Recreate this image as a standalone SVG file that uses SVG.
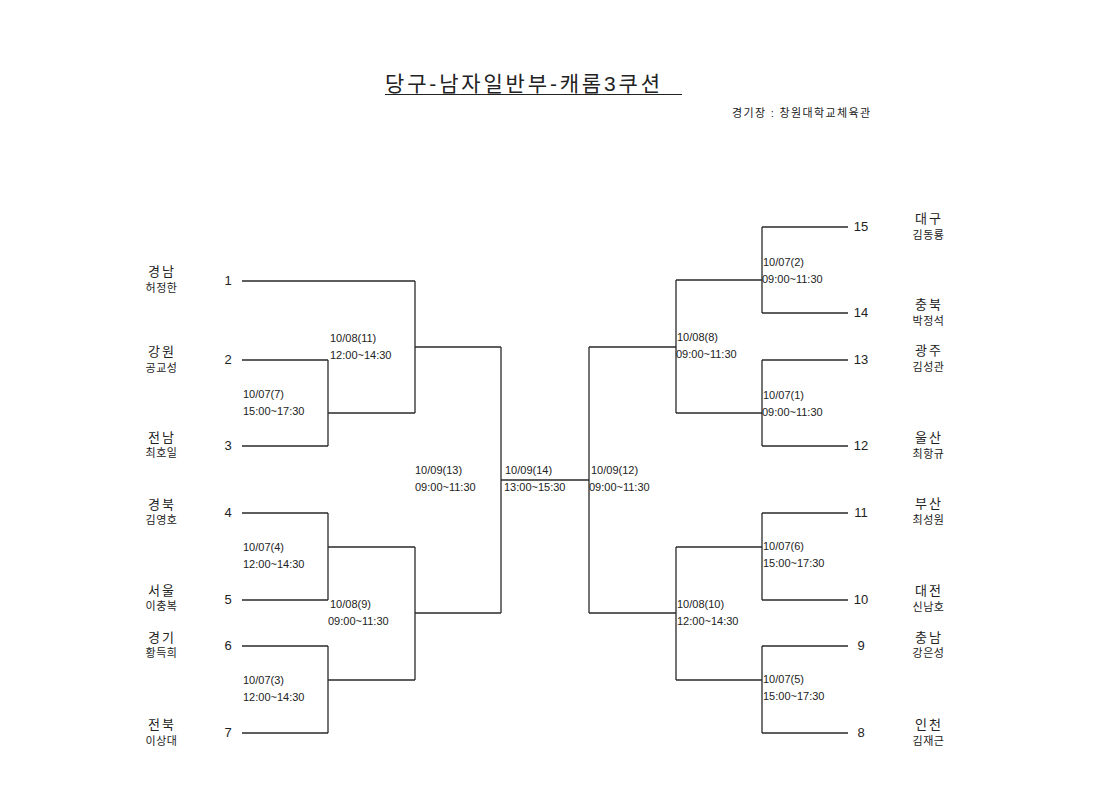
<svg xmlns="http://www.w3.org/2000/svg" width="1120" height="792" viewBox="0 0 1120 792">
<style>
text{font-family:"Liberation Sans","Noto Sans CJK KR",sans-serif;fill:#222}
.title{font-size:21px}
.venue{font-size:11px}
.num{font-size:13px;text-anchor:middle}
.team{font-size:13px;text-anchor:middle;letter-spacing:2px}
.name{font-size:11px;text-anchor:middle;letter-spacing:0.5px}
.date{font-size:11px}
.ln{fill:none;stroke:#2a2a2a;stroke-width:1.3}
</style>
<rect width="1120" height="792" fill="#fff"/>
<g id="title">
<text class="title" x="385" y="91" textLength="275" lengthAdjust="spacing">당구-남자일반부-캐롬3쿠션</text>
<line x1="385" y1="94.5" x2="682" y2="94.5" stroke="#222" stroke-width="1.2"/>
<text class="venue" x="732" y="117" textLength="138" lengthAdjust="spacing">경기장 : 창원대학교체육관</text>
</g>
<g id="connectors">
<path class="ln" d="M242,281H415M242,360H328M242,446H328M328,360V446M328,413H415M415,281V413M415,347H501"/>
<path class="ln" d="M242,513H328M242,600H328M328,513V600M328,547H415M242,646H328M242,733H328M328,646V733M328,680H415M415,547V680M415,613H501"/>
<path class="ln" d="M501,347V613M501,480H589M589,347V613M589,347H676M589,613H676"/>
<path class="ln" d="M676,280V413M676,280H762M676,413H762M762,227V313M762,227H848M762,313H848M762,360V446M762,360H848M762,446H848"/>
<path class="ln" d="M676,547V680M676,547H762M676,680H762M762,513V600M762,513H848M762,600H848M762,646V733M762,646H848M762,733H848"/>
</g>
<g id="p1"><text class="num" x="228" y="285">1</text><text class="team" x="162" y="276">경남</text><text class="name" x="161.5" y="292">허정한</text></g>
<g id="p2"><text class="num" x="228" y="364">2</text><text class="team" x="162" y="356">강원</text><text class="name" x="161.5" y="372">공교성</text></g>
<g id="p3"><text class="num" x="228" y="450">3</text><text class="team" x="162" y="442">전남</text><text class="name" x="161.5" y="457">최호일</text></g>
<g id="p4"><text class="num" x="228" y="517">4</text><text class="team" x="162" y="509">경북</text><text class="name" x="161.5" y="524">김영호</text></g>
<g id="p5"><text class="num" x="228" y="604">5</text><text class="team" x="162" y="595">서울</text><text class="name" x="161.5" y="610">이충복</text></g>
<g id="p6"><text class="num" x="228" y="650">6</text><text class="team" x="162" y="642">경기</text><text class="name" x="161.5" y="657">황득희</text></g>
<g id="p7"><text class="num" x="228" y="737">7</text><text class="team" x="162" y="729">전북</text><text class="name" x="161.5" y="745">이상대</text></g>
<g id="p15"><text class="num" x="861" y="231">15</text><text class="team" x="929" y="223">대구</text><text class="name" x="928.5" y="239">김동룡</text></g>
<g id="p14"><text class="num" x="861" y="317">14</text><text class="team" x="929" y="309">충북</text><text class="name" x="928.5" y="325">박정석</text></g>
<g id="p13"><text class="num" x="861" y="364">13</text><text class="team" x="929" y="355">광주</text><text class="name" x="928.5" y="371">김성관</text></g>
<g id="p12"><text class="num" x="861" y="450">12</text><text class="team" x="929" y="442">울산</text><text class="name" x="928.5" y="458">최항규</text></g>
<g id="p11"><text class="num" x="861" y="517">11</text><text class="team" x="929" y="508">부산</text><text class="name" x="928.5" y="524">최성원</text></g>
<g id="p10"><text class="num" x="861" y="604">10</text><text class="team" x="929" y="595">대전</text><text class="name" x="928.5" y="611">신남호</text></g>
<g id="p9"><text class="num" x="861" y="650">9</text><text class="team" x="929" y="642">충남</text><text class="name" x="928.5" y="657">강은성</text></g>
<g id="p8"><text class="num" x="861" y="737">8</text><text class="team" x="929" y="729">인천</text><text class="name" x="928.5" y="745">김재근</text></g>
<g id="m7"><text class="date" x="243" y="398">10/07(7)</text><text class="date" x="243" y="415">15:00~17:30</text></g>
<g id="m11"><text class="date" x="330" y="342">10/08(11)</text><text class="date" x="330" y="359">12:00~14:30</text></g>
<g id="m4"><text class="date" x="243" y="551">10/07(4)</text><text class="date" x="243" y="568">12:00~14:30</text></g>
<g id="m9"><text class="date" x="330" y="608">10/08(9)</text><text class="date" x="328" y="625">09:00~11:30</text></g>
<g id="m3"><text class="date" x="243" y="684">10/07(3)</text><text class="date" x="243" y="701">12:00~14:30</text></g>
<g id="m13"><text class="date" x="415" y="474">10/09(13)</text><text class="date" x="415" y="491">09:00~11:30</text></g>
<g id="m14"><text class="date" x="505" y="474">10/09(14)</text><text class="date" x="504" y="491">13:00~15:30</text></g>
<g id="m12"><text class="date" x="591" y="474">10/09(12)</text><text class="date" x="589" y="491">09:00~11:30</text></g>
<g id="m2"><text class="date" x="763" y="266">10/07(2)</text><text class="date" x="762" y="283">09:00~11:30</text></g>
<g id="m8"><text class="date" x="677" y="341">10/08(8)</text><text class="date" x="676" y="358">09:00~11:30</text></g>
<g id="m1"><text class="date" x="763" y="399">10/07(1)</text><text class="date" x="762" y="416">09:00~11:30</text></g>
<g id="m6"><text class="date" x="763" y="550">10/07(6)</text><text class="date" x="763" y="567">15:00~17:30</text></g>
<g id="m10"><text class="date" x="677" y="608">10/08(10)</text><text class="date" x="677" y="625">12:00~14:30</text></g>
<g id="m5"><text class="date" x="763" y="683">10/07(5)</text><text class="date" x="763" y="700">15:00~17:30</text></g>
</svg>
